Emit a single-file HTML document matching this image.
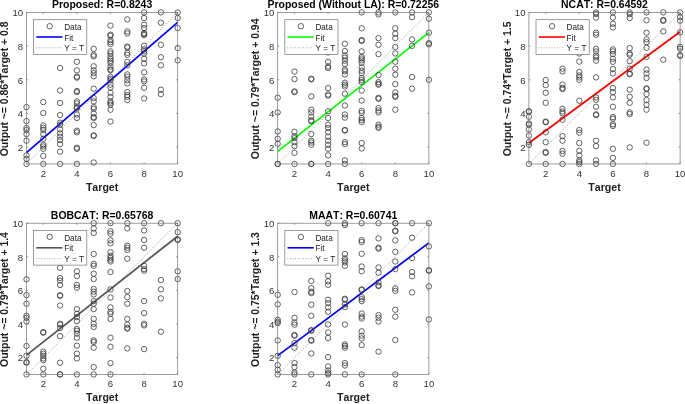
<!DOCTYPE html>
<html><head><meta charset="utf-8"><title>Regression plots</title>
<style>
html,body{margin:0;padding:0;background:#fff;}
svg{display:block;will-change:transform;font-family:"Liberation Sans",Arial,sans-serif;}
.tk{font-size:9.6px;font-kerning:none;fill:#333;}
.tt{font-size:10.1px;font-kerning:none;font-weight:bold;fill:#000;}
.lb{font-size:10.6px;font-kerning:none;font-weight:bold;fill:#222;}
.lg{font-size:8.2px;font-kerning:none;fill:#222;}
.c{fill:none;stroke:#3c3c3c;stroke-width:0.8;}
</style></head><body>
<svg width="685" height="404" viewBox="0 0 685 404">
<rect width="685" height="404" fill="#fff"/>
<g>
<line x1="26.5" y1="163.95" x2="177.7" y2="12.45" stroke="#5a5a5a" stroke-width="0.8" stroke-linecap="round" stroke-dasharray="0.01 2.83"/>
<line x1="26.5" y1="152.7" x2="177.7" y2="22.4" stroke="#0000ff" stroke-width="1.75"/>
<circle class="c" cx="26.5" cy="107.1" r="2.7"/>
<circle class="c" cx="26.5" cy="121.1" r="2.7"/>
<circle class="c" cx="26.5" cy="128.0" r="2.7"/>
<circle class="c" cx="26.5" cy="130.0" r="2.7"/>
<circle class="c" cx="26.5" cy="134.1" r="2.7"/>
<circle class="c" cx="26.5" cy="140.7" r="2.7"/>
<circle class="c" cx="26.5" cy="155.4" r="2.7"/>
<circle class="c" cx="26.5" cy="158.8" r="2.7"/>
<circle class="c" cx="26.5" cy="163.9" r="2.7"/>
<circle class="c" cx="43.3" cy="102.1" r="2.7"/>
<circle class="c" cx="43.3" cy="113.0" r="2.7"/>
<circle class="c" cx="43.3" cy="125.4" r="2.7"/>
<circle class="c" cx="43.3" cy="127.8" r="2.7"/>
<circle class="c" cx="43.3" cy="130.0" r="2.7"/>
<circle class="c" cx="43.3" cy="134.1" r="2.7"/>
<circle class="c" cx="43.3" cy="138.7" r="2.7"/>
<circle class="c" cx="43.3" cy="144.8" r="2.7"/>
<circle class="c" cx="43.3" cy="146.5" r="2.7"/>
<circle class="c" cx="43.3" cy="148.8" r="2.7"/>
<circle class="c" cx="43.3" cy="155.9" r="2.7"/>
<circle class="c" cx="43.3" cy="163.9" r="2.7"/>
<circle class="c" cx="60.1" cy="68.0" r="2.7"/>
<circle class="c" cx="60.1" cy="90.5" r="2.7"/>
<circle class="c" cx="60.1" cy="103.0" r="2.7"/>
<circle class="c" cx="60.1" cy="115.0" r="2.7"/>
<circle class="c" cx="60.1" cy="122.7" r="2.7"/>
<circle class="c" cx="60.1" cy="124.7" r="2.7"/>
<circle class="c" cx="60.1" cy="129.4" r="2.7"/>
<circle class="c" cx="60.1" cy="133.4" r="2.7"/>
<circle class="c" cx="60.1" cy="136.7" r="2.7"/>
<circle class="c" cx="60.1" cy="140.1" r="2.7"/>
<circle class="c" cx="60.1" cy="144.1" r="2.7"/>
<circle class="c" cx="60.1" cy="151.7" r="2.7"/>
<circle class="c" cx="60.1" cy="163.9" r="2.7"/>
<circle class="c" cx="76.9" cy="61.8" r="2.7"/>
<circle class="c" cx="76.9" cy="70.4" r="2.7"/>
<circle class="c" cx="76.9" cy="76.7" r="2.7"/>
<circle class="c" cx="76.9" cy="77.6" r="2.7"/>
<circle class="c" cx="76.9" cy="91.0" r="2.7"/>
<circle class="c" cx="76.9" cy="92.1" r="2.7"/>
<circle class="c" cx="76.9" cy="101.4" r="2.7"/>
<circle class="c" cx="76.9" cy="103.4" r="2.7"/>
<circle class="c" cx="76.9" cy="107.1" r="2.7"/>
<circle class="c" cx="76.9" cy="108.4" r="2.7"/>
<circle class="c" cx="76.9" cy="114.5" r="2.7"/>
<circle class="c" cx="76.9" cy="118.0" r="2.7"/>
<circle class="c" cx="76.9" cy="130.7" r="2.7"/>
<circle class="c" cx="76.9" cy="132.3" r="2.7"/>
<circle class="c" cx="76.9" cy="147.8" r="2.7"/>
<circle class="c" cx="76.9" cy="148.8" r="2.7"/>
<circle class="c" cx="76.9" cy="163.9" r="2.7"/>
<circle class="c" cx="93.7" cy="48.8" r="2.7"/>
<circle class="c" cx="93.7" cy="54.8" r="2.7"/>
<circle class="c" cx="93.7" cy="56.4" r="2.7"/>
<circle class="c" cx="93.7" cy="66.3" r="2.7"/>
<circle class="c" cx="93.7" cy="70.4" r="2.7"/>
<circle class="c" cx="93.7" cy="73.1" r="2.7"/>
<circle class="c" cx="93.7" cy="76.3" r="2.7"/>
<circle class="c" cx="93.7" cy="88.7" r="2.7"/>
<circle class="c" cx="93.7" cy="98.1" r="2.7"/>
<circle class="c" cx="93.7" cy="101.4" r="2.7"/>
<circle class="c" cx="93.7" cy="107.1" r="2.7"/>
<circle class="c" cx="93.7" cy="108.8" r="2.7"/>
<circle class="c" cx="93.7" cy="113.4" r="2.7"/>
<circle class="c" cx="93.7" cy="117.1" r="2.7"/>
<circle class="c" cx="93.7" cy="118.0" r="2.7"/>
<circle class="c" cx="93.7" cy="125.1" r="2.7"/>
<circle class="c" cx="93.7" cy="135.4" r="2.7"/>
<circle class="c" cx="93.7" cy="135.9" r="2.7"/>
<circle class="c" cx="93.7" cy="162.5" r="2.7"/>
<circle class="c" cx="110.5" cy="25.6" r="2.7"/>
<circle class="c" cx="110.5" cy="34.7" r="2.7"/>
<circle class="c" cx="110.5" cy="35.8" r="2.7"/>
<circle class="c" cx="110.5" cy="40.1" r="2.7"/>
<circle class="c" cx="110.5" cy="42.1" r="2.7"/>
<circle class="c" cx="110.5" cy="44.1" r="2.7"/>
<circle class="c" cx="110.5" cy="51.4" r="2.7"/>
<circle class="c" cx="110.5" cy="53.5" r="2.7"/>
<circle class="c" cx="110.5" cy="56.4" r="2.7"/>
<circle class="c" cx="110.5" cy="58.8" r="2.7"/>
<circle class="c" cx="110.5" cy="60.8" r="2.7"/>
<circle class="c" cx="110.5" cy="62.9" r="2.7"/>
<circle class="c" cx="110.5" cy="66.7" r="2.7"/>
<circle class="c" cx="110.5" cy="69.4" r="2.7"/>
<circle class="c" cx="110.5" cy="70.2" r="2.7"/>
<circle class="c" cx="110.5" cy="76.7" r="2.7"/>
<circle class="c" cx="110.5" cy="78.7" r="2.7"/>
<circle class="c" cx="110.5" cy="80.3" r="2.7"/>
<circle class="c" cx="110.5" cy="84.7" r="2.7"/>
<circle class="c" cx="110.5" cy="87.4" r="2.7"/>
<circle class="c" cx="110.5" cy="92.8" r="2.7"/>
<circle class="c" cx="110.5" cy="96.8" r="2.7"/>
<circle class="c" cx="110.5" cy="101.4" r="2.7"/>
<circle class="c" cx="110.5" cy="103.0" r="2.7"/>
<circle class="c" cx="110.5" cy="104.8" r="2.7"/>
<circle class="c" cx="110.5" cy="109.7" r="2.7"/>
<circle class="c" cx="110.5" cy="121.6" r="2.7"/>
<circle class="c" cx="127.3" cy="19.4" r="2.7"/>
<circle class="c" cx="127.3" cy="31.4" r="2.7"/>
<circle class="c" cx="127.3" cy="33.4" r="2.7"/>
<circle class="c" cx="127.3" cy="46.6" r="2.7"/>
<circle class="c" cx="127.3" cy="47.4" r="2.7"/>
<circle class="c" cx="127.3" cy="52.8" r="2.7"/>
<circle class="c" cx="127.3" cy="54.8" r="2.7"/>
<circle class="c" cx="127.3" cy="62.0" r="2.7"/>
<circle class="c" cx="127.3" cy="65.3" r="2.7"/>
<circle class="c" cx="127.3" cy="74.4" r="2.7"/>
<circle class="c" cx="127.3" cy="76.7" r="2.7"/>
<circle class="c" cx="127.3" cy="80.1" r="2.7"/>
<circle class="c" cx="127.3" cy="83.4" r="2.7"/>
<circle class="c" cx="127.3" cy="92.1" r="2.7"/>
<circle class="c" cx="127.3" cy="95.0" r="2.7"/>
<circle class="c" cx="127.3" cy="96.8" r="2.7"/>
<circle class="c" cx="127.3" cy="100.1" r="2.7"/>
<circle class="c" cx="144.1" cy="12.4" r="2.7"/>
<circle class="c" cx="144.1" cy="18.0" r="2.7"/>
<circle class="c" cx="144.1" cy="24.7" r="2.7"/>
<circle class="c" cx="144.1" cy="28.1" r="2.7"/>
<circle class="c" cx="144.1" cy="33.1" r="2.7"/>
<circle class="c" cx="144.1" cy="34.1" r="2.7"/>
<circle class="c" cx="144.1" cy="35.1" r="2.7"/>
<circle class="c" cx="144.1" cy="45.8" r="2.7"/>
<circle class="c" cx="144.1" cy="49.4" r="2.7"/>
<circle class="c" cx="144.1" cy="51.4" r="2.7"/>
<circle class="c" cx="144.1" cy="53.5" r="2.7"/>
<circle class="c" cx="144.1" cy="58.8" r="2.7"/>
<circle class="c" cx="144.1" cy="63.3" r="2.7"/>
<circle class="c" cx="144.1" cy="72.3" r="2.7"/>
<circle class="c" cx="144.1" cy="79.4" r="2.7"/>
<circle class="c" cx="144.1" cy="81.4" r="2.7"/>
<circle class="c" cx="144.1" cy="87.8" r="2.7"/>
<circle class="c" cx="144.1" cy="98.5" r="2.7"/>
<circle class="c" cx="160.9" cy="12.4" r="2.7"/>
<circle class="c" cx="160.9" cy="22.7" r="2.7"/>
<circle class="c" cx="160.9" cy="44.8" r="2.7"/>
<circle class="c" cx="160.9" cy="57.2" r="2.7"/>
<circle class="c" cx="160.9" cy="65.3" r="2.7"/>
<circle class="c" cx="160.9" cy="89.7" r="2.7"/>
<circle class="c" cx="160.9" cy="94.1" r="2.7"/>
<circle class="c" cx="177.7" cy="12.4" r="2.7"/>
<circle class="c" cx="177.7" cy="18.0" r="2.7"/>
<circle class="c" cx="177.7" cy="28.1" r="2.7"/>
<circle class="c" cx="177.7" cy="48.1" r="2.7"/>
<circle class="c" cx="177.7" cy="60.4" r="2.7"/>
<rect x="26.5" y="12.45" width="151.2" height="151.5" fill="none" stroke="#747474" stroke-width="0.7"/>
<path d="M43.3 163.95v-1.6M43.3 12.45v1.6M26.5 147.1h1.6M177.7 147.1h-1.6M76.9 163.95v-1.6M76.9 12.45v1.6M26.5 113.4h1.6M177.7 113.4h-1.6M110.5 163.95v-1.6M110.5 12.45v1.6M26.5 79.8h1.6M177.7 79.8h-1.6M144.1 163.95v-1.6M144.1 12.45v1.6M26.5 46.1h1.6M177.7 46.1h-1.6M177.7 163.95v-1.6M177.7 12.45v1.6M26.5 12.4h1.6M177.7 12.4h-1.6" stroke="#747474" stroke-width="0.7" fill="none"/>
<text class="tk" x="43.3" y="176.9" text-anchor="middle">2</text>
<text class="tk" x="23.1" y="150.87" text-anchor="end">2</text>
<text class="tk" x="76.9" y="176.9" text-anchor="middle">4</text>
<text class="tk" x="23.1" y="117.20" text-anchor="end">4</text>
<text class="tk" x="110.5" y="176.9" text-anchor="middle">6</text>
<text class="tk" x="23.1" y="83.53" text-anchor="end">6</text>
<text class="tk" x="144.1" y="176.9" text-anchor="middle">8</text>
<text class="tk" x="23.1" y="49.87" text-anchor="end">8</text>
<text class="tk" x="177.7" y="176.9" text-anchor="middle">10</text>
<text class="tk" x="23.1" y="16.20" text-anchor="end">10</text>
<text class="tt" transform="translate(102.1 8.20) scale(1.037 1)" text-anchor="middle">Proposed: R=0.8243</text>
<text class="lb" x="102.1" y="190.8" text-anchor="middle">Target</text>
<text class="lb" style="font-size:10.45px" transform="translate(8.25 88.9) rotate(-90)" text-anchor="middle">Output ~= 0.86*Target + 0.8</text>
<rect x="33.6" y="19.7" width="53.2" height="34.7" fill="#fff" stroke="#747474" stroke-width="0.7"/>
<circle class="c" cx="49.7" cy="26.2" r="2.7"/>
<line x1="36.3" y1="37.0" x2="62.5" y2="37.0" stroke="#0000ff" stroke-width="1.6"/>
<line x1="36.6" y1="47.8" x2="61.0" y2="47.8" stroke="#777" stroke-width="0.8" stroke-linecap="round" stroke-dasharray="0.01 2.6"/>
<text class="lg" x="64.2" y="29.8">Data</text>
<text class="lg" x="64.2" y="40.5">Fit</text>
<text class="lg" x="64.2" y="51.3">Y = T</text>
</g>
<g>
<line x1="277.7" y1="163.95" x2="428.9" y2="12.45" stroke="#5a5a5a" stroke-width="0.8" stroke-linecap="round" stroke-dasharray="0.01 2.83"/>
<line x1="277.7" y1="151.4" x2="428.9" y2="32.6" stroke="#00ff00" stroke-width="1.75"/>
<circle class="c" cx="277.7" cy="97.7" r="2.7"/>
<circle class="c" cx="277.7" cy="112.5" r="2.7"/>
<circle class="c" cx="277.7" cy="131.4" r="2.7"/>
<circle class="c" cx="277.7" cy="138.7" r="2.7"/>
<circle class="c" cx="277.7" cy="143.8" r="2.7"/>
<circle class="c" cx="277.7" cy="163.9" r="2.7"/>
<circle class="c" cx="277.7" cy="163.9" r="2.7"/>
<circle class="c" cx="294.5" cy="71.6" r="2.7"/>
<circle class="c" cx="294.5" cy="79.1" r="2.7"/>
<circle class="c" cx="294.5" cy="91.4" r="2.7"/>
<circle class="c" cx="294.5" cy="92.1" r="2.7"/>
<circle class="c" cx="294.5" cy="131.8" r="2.7"/>
<circle class="c" cx="294.5" cy="136.1" r="2.7"/>
<circle class="c" cx="294.5" cy="138.1" r="2.7"/>
<circle class="c" cx="294.5" cy="142.1" r="2.7"/>
<circle class="c" cx="294.5" cy="146.1" r="2.7"/>
<circle class="c" cx="294.5" cy="152.8" r="2.7"/>
<circle class="c" cx="294.5" cy="163.9" r="2.7"/>
<circle class="c" cx="311.3" cy="78.7" r="2.7"/>
<circle class="c" cx="311.3" cy="79.4" r="2.7"/>
<circle class="c" cx="311.3" cy="96.4" r="2.7"/>
<circle class="c" cx="311.3" cy="109.7" r="2.7"/>
<circle class="c" cx="311.3" cy="112.4" r="2.7"/>
<circle class="c" cx="311.3" cy="116.7" r="2.7"/>
<circle class="c" cx="311.3" cy="120.3" r="2.7"/>
<circle class="c" cx="311.3" cy="121.1" r="2.7"/>
<circle class="c" cx="311.3" cy="134.1" r="2.7"/>
<circle class="c" cx="311.3" cy="140.7" r="2.7"/>
<circle class="c" cx="311.3" cy="142.5" r="2.7"/>
<circle class="c" cx="311.3" cy="144.8" r="2.7"/>
<circle class="c" cx="311.3" cy="163.9" r="2.7"/>
<circle class="c" cx="311.3" cy="163.9" r="2.7"/>
<circle class="c" cx="328.1" cy="52.4" r="2.7"/>
<circle class="c" cx="328.1" cy="61.8" r="2.7"/>
<circle class="c" cx="328.1" cy="66.4" r="2.7"/>
<circle class="c" cx="328.1" cy="68.0" r="2.7"/>
<circle class="c" cx="328.1" cy="88.1" r="2.7"/>
<circle class="c" cx="328.1" cy="94.5" r="2.7"/>
<circle class="c" cx="328.1" cy="95.6" r="2.7"/>
<circle class="c" cx="328.1" cy="111.3" r="2.7"/>
<circle class="c" cx="328.1" cy="118.0" r="2.7"/>
<circle class="c" cx="328.1" cy="124.7" r="2.7"/>
<circle class="c" cx="328.1" cy="128.0" r="2.7"/>
<circle class="c" cx="328.1" cy="132.1" r="2.7"/>
<circle class="c" cx="328.1" cy="136.7" r="2.7"/>
<circle class="c" cx="328.1" cy="140.7" r="2.7"/>
<circle class="c" cx="328.1" cy="144.8" r="2.7"/>
<circle class="c" cx="328.1" cy="148.8" r="2.7"/>
<circle class="c" cx="328.1" cy="155.4" r="2.7"/>
<circle class="c" cx="328.1" cy="163.9" r="2.7"/>
<circle class="c" cx="344.9" cy="43.8" r="2.7"/>
<circle class="c" cx="344.9" cy="51.0" r="2.7"/>
<circle class="c" cx="344.9" cy="55.5" r="2.7"/>
<circle class="c" cx="344.9" cy="57.7" r="2.7"/>
<circle class="c" cx="344.9" cy="60.7" r="2.7"/>
<circle class="c" cx="344.9" cy="64.0" r="2.7"/>
<circle class="c" cx="344.9" cy="69.6" r="2.7"/>
<circle class="c" cx="344.9" cy="71.4" r="2.7"/>
<circle class="c" cx="344.9" cy="74.4" r="2.7"/>
<circle class="c" cx="344.9" cy="82.7" r="2.7"/>
<circle class="c" cx="344.9" cy="84.7" r="2.7"/>
<circle class="c" cx="344.9" cy="86.5" r="2.7"/>
<circle class="c" cx="344.9" cy="93.7" r="2.7"/>
<circle class="c" cx="344.9" cy="105.5" r="2.7"/>
<circle class="c" cx="344.9" cy="114.5" r="2.7"/>
<circle class="c" cx="344.9" cy="117.6" r="2.7"/>
<circle class="c" cx="344.9" cy="130.0" r="2.7"/>
<circle class="c" cx="344.9" cy="130.5" r="2.7"/>
<circle class="c" cx="344.9" cy="142.1" r="2.7"/>
<circle class="c" cx="344.9" cy="144.1" r="2.7"/>
<circle class="c" cx="344.9" cy="160.4" r="2.7"/>
<circle class="c" cx="344.9" cy="163.9" r="2.7"/>
<circle class="c" cx="361.7" cy="12.4" r="2.7"/>
<circle class="c" cx="361.7" cy="28.3" r="2.7"/>
<circle class="c" cx="361.7" cy="40.1" r="2.7"/>
<circle class="c" cx="361.7" cy="40.9" r="2.7"/>
<circle class="c" cx="361.7" cy="51.4" r="2.7"/>
<circle class="c" cx="361.7" cy="56.8" r="2.7"/>
<circle class="c" cx="361.7" cy="58.5" r="2.7"/>
<circle class="c" cx="361.7" cy="60.4" r="2.7"/>
<circle class="c" cx="361.7" cy="62.9" r="2.7"/>
<circle class="c" cx="361.7" cy="67.4" r="2.7"/>
<circle class="c" cx="361.7" cy="70.7" r="2.7"/>
<circle class="c" cx="361.7" cy="73.1" r="2.7"/>
<circle class="c" cx="361.7" cy="78.0" r="2.7"/>
<circle class="c" cx="361.7" cy="80.1" r="2.7"/>
<circle class="c" cx="361.7" cy="82.1" r="2.7"/>
<circle class="c" cx="361.7" cy="90.5" r="2.7"/>
<circle class="c" cx="361.7" cy="100.5" r="2.7"/>
<circle class="c" cx="361.7" cy="110.8" r="2.7"/>
<circle class="c" cx="361.7" cy="112.8" r="2.7"/>
<circle class="c" cx="361.7" cy="118.0" r="2.7"/>
<circle class="c" cx="361.7" cy="120.0" r="2.7"/>
<circle class="c" cx="361.7" cy="122.0" r="2.7"/>
<circle class="c" cx="361.7" cy="143.0" r="2.7"/>
<circle class="c" cx="361.7" cy="148.4" r="2.7"/>
<circle class="c" cx="378.5" cy="12.4" r="2.7"/>
<circle class="c" cx="378.5" cy="14.4" r="2.7"/>
<circle class="c" cx="378.5" cy="38.1" r="2.7"/>
<circle class="c" cx="378.5" cy="44.8" r="2.7"/>
<circle class="c" cx="378.5" cy="54.1" r="2.7"/>
<circle class="c" cx="378.5" cy="75.0" r="2.7"/>
<circle class="c" cx="378.5" cy="82.1" r="2.7"/>
<circle class="c" cx="378.5" cy="83.8" r="2.7"/>
<circle class="c" cx="378.5" cy="84.7" r="2.7"/>
<circle class="c" cx="378.5" cy="97.8" r="2.7"/>
<circle class="c" cx="378.5" cy="98.8" r="2.7"/>
<circle class="c" cx="378.5" cy="108.1" r="2.7"/>
<circle class="c" cx="378.5" cy="110.5" r="2.7"/>
<circle class="c" cx="378.5" cy="112.4" r="2.7"/>
<circle class="c" cx="378.5" cy="124.7" r="2.7"/>
<circle class="c" cx="378.5" cy="126.7" r="2.7"/>
<circle class="c" cx="378.5" cy="127.8" r="2.7"/>
<circle class="c" cx="395.3" cy="12.4" r="2.7"/>
<circle class="c" cx="395.3" cy="28.3" r="2.7"/>
<circle class="c" cx="395.3" cy="33.7" r="2.7"/>
<circle class="c" cx="395.3" cy="38.1" r="2.7"/>
<circle class="c" cx="395.3" cy="47.0" r="2.7"/>
<circle class="c" cx="395.3" cy="53.5" r="2.7"/>
<circle class="c" cx="395.3" cy="61.8" r="2.7"/>
<circle class="c" cx="395.3" cy="68.7" r="2.7"/>
<circle class="c" cx="395.3" cy="74.7" r="2.7"/>
<circle class="c" cx="395.3" cy="84.1" r="2.7"/>
<circle class="c" cx="395.3" cy="92.4" r="2.7"/>
<circle class="c" cx="395.3" cy="95.8" r="2.7"/>
<circle class="c" cx="395.3" cy="96.8" r="2.7"/>
<circle class="c" cx="395.3" cy="109.7" r="2.7"/>
<circle class="c" cx="412.1" cy="12.4" r="2.7"/>
<circle class="c" cx="412.1" cy="17.1" r="2.7"/>
<circle class="c" cx="412.1" cy="39.4" r="2.7"/>
<circle class="c" cx="412.1" cy="45.8" r="2.7"/>
<circle class="c" cx="412.1" cy="77.0" r="2.7"/>
<circle class="c" cx="412.1" cy="88.7" r="2.7"/>
<circle class="c" cx="428.9" cy="12.4" r="2.7"/>
<circle class="c" cx="428.9" cy="18.7" r="2.7"/>
<circle class="c" cx="428.9" cy="32.7" r="2.7"/>
<circle class="c" cx="428.9" cy="43.0" r="2.7"/>
<circle class="c" cx="428.9" cy="44.4" r="2.7"/>
<circle class="c" cx="428.9" cy="79.8" r="2.7"/>
<rect x="277.7" y="12.45" width="151.2" height="151.5" fill="none" stroke="#747474" stroke-width="0.7"/>
<path d="M294.5 163.95v-1.6M294.5 12.45v1.6M277.7 147.1h1.6M428.9 147.1h-1.6M328.1 163.95v-1.6M328.1 12.45v1.6M277.7 113.4h1.6M428.9 113.4h-1.6M361.7 163.95v-1.6M361.7 12.45v1.6M277.7 79.8h1.6M428.9 79.8h-1.6M395.3 163.95v-1.6M395.3 12.45v1.6M277.7 46.1h1.6M428.9 46.1h-1.6M428.9 163.95v-1.6M428.9 12.45v1.6M277.7 12.4h1.6M428.9 12.4h-1.6" stroke="#747474" stroke-width="0.7" fill="none"/>
<text class="tk" x="294.5" y="176.9" text-anchor="middle">2</text>
<text class="tk" x="274.3" y="150.87" text-anchor="end">2</text>
<text class="tk" x="328.1" y="176.9" text-anchor="middle">4</text>
<text class="tk" x="274.3" y="117.20" text-anchor="end">4</text>
<text class="tk" x="361.7" y="176.9" text-anchor="middle">6</text>
<text class="tk" x="274.3" y="83.53" text-anchor="end">6</text>
<text class="tk" x="395.3" y="176.9" text-anchor="middle">8</text>
<text class="tk" x="274.3" y="49.87" text-anchor="end">8</text>
<text class="tk" x="428.9" y="176.9" text-anchor="middle">10</text>
<text class="tk" x="274.3" y="16.20" text-anchor="end">10</text>
<text class="tt" transform="translate(353.3 8.20) scale(1.037 1)" text-anchor="middle">Proposed (Without LA): R=0.72256</text>
<text class="lb" x="353.3" y="190.8" text-anchor="middle">Target</text>
<text class="lb" style="font-size:10.45px" transform="translate(259.45 88.9) rotate(-90)" text-anchor="middle">Output ~= 0.79*Target + 0.94</text>
<rect x="284.8" y="19.7" width="53.2" height="34.7" fill="#fff" stroke="#747474" stroke-width="0.7"/>
<circle class="c" cx="300.9" cy="26.2" r="2.7"/>
<line x1="287.5" y1="37.0" x2="313.7" y2="37.0" stroke="#00ff00" stroke-width="1.6"/>
<line x1="287.8" y1="47.8" x2="312.2" y2="47.8" stroke="#777" stroke-width="0.8" stroke-linecap="round" stroke-dasharray="0.01 2.6"/>
<text class="lg" x="315.4" y="29.8">Data</text>
<text class="lg" x="315.4" y="40.5">Fit</text>
<text class="lg" x="315.4" y="51.3">Y = T</text>
</g>
<g>
<line x1="528.9" y1="163.95" x2="680.0999999999999" y2="12.45" stroke="#5a5a5a" stroke-width="0.8" stroke-linecap="round" stroke-dasharray="0.01 2.83"/>
<line x1="528.9" y1="143.0" x2="680.0999999999999" y2="31.7" stroke="#ff0000" stroke-width="1.75"/>
<circle class="c" cx="528.9" cy="111.2" r="2.7"/>
<circle class="c" cx="528.9" cy="111.8" r="2.7"/>
<circle class="c" cx="528.9" cy="116.7" r="2.7"/>
<circle class="c" cx="528.9" cy="123.4" r="2.7"/>
<circle class="c" cx="528.9" cy="124.7" r="2.7"/>
<circle class="c" cx="528.9" cy="129.4" r="2.7"/>
<circle class="c" cx="528.9" cy="135.4" r="2.7"/>
<circle class="c" cx="528.9" cy="142.1" r="2.7"/>
<circle class="c" cx="528.9" cy="144.8" r="2.7"/>
<circle class="c" cx="528.9" cy="163.9" r="2.7"/>
<circle class="c" cx="545.7" cy="80.1" r="2.7"/>
<circle class="c" cx="545.7" cy="85.1" r="2.7"/>
<circle class="c" cx="545.7" cy="92.8" r="2.7"/>
<circle class="c" cx="545.7" cy="102.8" r="2.7"/>
<circle class="c" cx="545.7" cy="121.6" r="2.7"/>
<circle class="c" cx="545.7" cy="122.2" r="2.7"/>
<circle class="c" cx="545.7" cy="132.3" r="2.7"/>
<circle class="c" cx="545.7" cy="142.1" r="2.7"/>
<circle class="c" cx="545.7" cy="152.1" r="2.7"/>
<circle class="c" cx="545.7" cy="152.8" r="2.7"/>
<circle class="c" cx="545.7" cy="163.9" r="2.7"/>
<circle class="c" cx="562.5" cy="68.7" r="2.7"/>
<circle class="c" cx="562.5" cy="71.4" r="2.7"/>
<circle class="c" cx="562.5" cy="84.7" r="2.7"/>
<circle class="c" cx="562.5" cy="87.8" r="2.7"/>
<circle class="c" cx="562.5" cy="89.1" r="2.7"/>
<circle class="c" cx="562.5" cy="108.8" r="2.7"/>
<circle class="c" cx="562.5" cy="111.5" r="2.7"/>
<circle class="c" cx="562.5" cy="113.3" r="2.7"/>
<circle class="c" cx="562.5" cy="119.8" r="2.7"/>
<circle class="c" cx="562.5" cy="136.1" r="2.7"/>
<circle class="c" cx="562.5" cy="140.7" r="2.7"/>
<circle class="c" cx="562.5" cy="151.0" r="2.7"/>
<circle class="c" cx="562.5" cy="153.7" r="2.7"/>
<circle class="c" cx="562.5" cy="163.9" r="2.7"/>
<circle class="c" cx="579.3" cy="53.5" r="2.7"/>
<circle class="c" cx="579.3" cy="61.6" r="2.7"/>
<circle class="c" cx="579.3" cy="72.0" r="2.7"/>
<circle class="c" cx="579.3" cy="75.4" r="2.7"/>
<circle class="c" cx="579.3" cy="77.4" r="2.7"/>
<circle class="c" cx="579.3" cy="79.8" r="2.7"/>
<circle class="c" cx="579.3" cy="100.8" r="2.7"/>
<circle class="c" cx="579.3" cy="130.0" r="2.7"/>
<circle class="c" cx="579.3" cy="132.7" r="2.7"/>
<circle class="c" cx="579.3" cy="143.0" r="2.7"/>
<circle class="c" cx="579.3" cy="150.8" r="2.7"/>
<circle class="c" cx="579.3" cy="155.4" r="2.7"/>
<circle class="c" cx="579.3" cy="160.4" r="2.7"/>
<circle class="c" cx="579.3" cy="162.1" r="2.7"/>
<circle class="c" cx="579.3" cy="163.9" r="2.7"/>
<circle class="c" cx="596.1" cy="12.4" r="2.7"/>
<circle class="c" cx="596.1" cy="14.0" r="2.7"/>
<circle class="c" cx="596.1" cy="17.6" r="2.7"/>
<circle class="c" cx="596.1" cy="32.7" r="2.7"/>
<circle class="c" cx="596.1" cy="34.7" r="2.7"/>
<circle class="c" cx="596.1" cy="48.8" r="2.7"/>
<circle class="c" cx="596.1" cy="51.4" r="2.7"/>
<circle class="c" cx="596.1" cy="55.5" r="2.7"/>
<circle class="c" cx="596.1" cy="57.5" r="2.7"/>
<circle class="c" cx="596.1" cy="60.7" r="2.7"/>
<circle class="c" cx="596.1" cy="77.4" r="2.7"/>
<circle class="c" cx="596.1" cy="97.4" r="2.7"/>
<circle class="c" cx="596.1" cy="99.8" r="2.7"/>
<circle class="c" cx="596.1" cy="106.8" r="2.7"/>
<circle class="c" cx="596.1" cy="114.3" r="2.7"/>
<circle class="c" cx="596.1" cy="115.2" r="2.7"/>
<circle class="c" cx="596.1" cy="140.7" r="2.7"/>
<circle class="c" cx="596.1" cy="146.1" r="2.7"/>
<circle class="c" cx="596.1" cy="160.4" r="2.7"/>
<circle class="c" cx="596.1" cy="163.9" r="2.7"/>
<circle class="c" cx="612.9" cy="12.4" r="2.7"/>
<circle class="c" cx="612.9" cy="17.6" r="2.7"/>
<circle class="c" cx="612.9" cy="23.8" r="2.7"/>
<circle class="c" cx="612.9" cy="27.4" r="2.7"/>
<circle class="c" cx="612.9" cy="49.4" r="2.7"/>
<circle class="c" cx="612.9" cy="51.4" r="2.7"/>
<circle class="c" cx="612.9" cy="54.1" r="2.7"/>
<circle class="c" cx="612.9" cy="58.8" r="2.7"/>
<circle class="c" cx="612.9" cy="61.8" r="2.7"/>
<circle class="c" cx="612.9" cy="69.1" r="2.7"/>
<circle class="c" cx="612.9" cy="73.4" r="2.7"/>
<circle class="c" cx="612.9" cy="88.1" r="2.7"/>
<circle class="c" cx="612.9" cy="92.1" r="2.7"/>
<circle class="c" cx="612.9" cy="97.4" r="2.7"/>
<circle class="c" cx="612.9" cy="106.8" r="2.7"/>
<circle class="c" cx="612.9" cy="117.1" r="2.7"/>
<circle class="c" cx="612.9" cy="118.7" r="2.7"/>
<circle class="c" cx="612.9" cy="124.3" r="2.7"/>
<circle class="c" cx="612.9" cy="126.0" r="2.7"/>
<circle class="c" cx="612.9" cy="148.8" r="2.7"/>
<circle class="c" cx="612.9" cy="157.9" r="2.7"/>
<circle class="c" cx="612.9" cy="163.9" r="2.7"/>
<circle class="c" cx="629.7" cy="12.4" r="2.7"/>
<circle class="c" cx="629.7" cy="14.0" r="2.7"/>
<circle class="c" cx="629.7" cy="18.0" r="2.7"/>
<circle class="c" cx="629.7" cy="48.1" r="2.7"/>
<circle class="c" cx="629.7" cy="53.5" r="2.7"/>
<circle class="c" cx="629.7" cy="54.8" r="2.7"/>
<circle class="c" cx="629.7" cy="61.2" r="2.7"/>
<circle class="c" cx="629.7" cy="68.7" r="2.7"/>
<circle class="c" cx="629.7" cy="73.6" r="2.7"/>
<circle class="c" cx="629.7" cy="74.2" r="2.7"/>
<circle class="c" cx="629.7" cy="89.7" r="2.7"/>
<circle class="c" cx="629.7" cy="96.8" r="2.7"/>
<circle class="c" cx="629.7" cy="102.8" r="2.7"/>
<circle class="c" cx="629.7" cy="112.4" r="2.7"/>
<circle class="c" cx="629.7" cy="114.0" r="2.7"/>
<circle class="c" cx="629.7" cy="147.4" r="2.7"/>
<circle class="c" cx="646.5" cy="12.4" r="2.7"/>
<circle class="c" cx="646.5" cy="20.3" r="2.7"/>
<circle class="c" cx="646.5" cy="32.7" r="2.7"/>
<circle class="c" cx="646.5" cy="39.4" r="2.7"/>
<circle class="c" cx="646.5" cy="42.1" r="2.7"/>
<circle class="c" cx="646.5" cy="47.8" r="2.7"/>
<circle class="c" cx="646.5" cy="56.8" r="2.7"/>
<circle class="c" cx="646.5" cy="69.6" r="2.7"/>
<circle class="c" cx="646.5" cy="73.4" r="2.7"/>
<circle class="c" cx="646.5" cy="78.0" r="2.7"/>
<circle class="c" cx="646.5" cy="88.4" r="2.7"/>
<circle class="c" cx="646.5" cy="89.0" r="2.7"/>
<circle class="c" cx="646.5" cy="94.1" r="2.7"/>
<circle class="c" cx="646.5" cy="100.1" r="2.7"/>
<circle class="c" cx="646.5" cy="104.8" r="2.7"/>
<circle class="c" cx="646.5" cy="109.7" r="2.7"/>
<circle class="c" cx="646.5" cy="142.7" r="2.7"/>
<circle class="c" cx="663.3" cy="12.4" r="2.7"/>
<circle class="c" cx="663.3" cy="20.0" r="2.7"/>
<circle class="c" cx="663.3" cy="20.8" r="2.7"/>
<circle class="c" cx="663.3" cy="31.4" r="2.7"/>
<circle class="c" cx="663.3" cy="59.7" r="2.7"/>
<circle class="c" cx="680.1" cy="12.4" r="2.7"/>
<circle class="c" cx="680.1" cy="17.1" r="2.7"/>
<circle class="c" cx="680.1" cy="20.7" r="2.7"/>
<circle class="c" cx="680.1" cy="32.3" r="2.7"/>
<circle class="c" cx="680.1" cy="46.8" r="2.7"/>
<circle class="c" cx="680.1" cy="48.8" r="2.7"/>
<circle class="c" cx="680.1" cy="55.2" r="2.7"/>
<circle class="c" cx="680.1" cy="55.8" r="2.7"/>
<rect x="528.9" y="12.45" width="151.2" height="151.5" fill="none" stroke="#747474" stroke-width="0.7"/>
<path d="M545.7 163.95v-1.6M545.7 12.45v1.6M528.9 147.1h1.6M680.0999999999999 147.1h-1.6M579.3 163.95v-1.6M579.3 12.45v1.6M528.9 113.4h1.6M680.0999999999999 113.4h-1.6M612.9 163.95v-1.6M612.9 12.45v1.6M528.9 79.8h1.6M680.0999999999999 79.8h-1.6M646.5 163.95v-1.6M646.5 12.45v1.6M528.9 46.1h1.6M680.0999999999999 46.1h-1.6M680.1 163.95v-1.6M680.1 12.45v1.6M528.9 12.4h1.6M680.0999999999999 12.4h-1.6" stroke="#747474" stroke-width="0.7" fill="none"/>
<text class="tk" x="545.7" y="176.9" text-anchor="middle">2</text>
<text class="tk" x="525.5" y="150.87" text-anchor="end">2</text>
<text class="tk" x="579.3" y="176.9" text-anchor="middle">4</text>
<text class="tk" x="525.5" y="117.20" text-anchor="end">4</text>
<text class="tk" x="612.9" y="176.9" text-anchor="middle">6</text>
<text class="tk" x="525.5" y="83.53" text-anchor="end">6</text>
<text class="tk" x="646.5" y="176.9" text-anchor="middle">8</text>
<text class="tk" x="525.5" y="49.87" text-anchor="end">8</text>
<text class="tk" x="680.1" y="176.9" text-anchor="middle">10</text>
<text class="tk" x="525.5" y="16.20" text-anchor="end">10</text>
<text class="tt" transform="translate(604.5 8.20) scale(1.037 1)" text-anchor="middle">NCAT: R=0.64592</text>
<text class="lb" x="604.5" y="190.8" text-anchor="middle">Target</text>
<text class="lb" style="font-size:10.45px" transform="translate(510.65 88.9) rotate(-90)" text-anchor="middle">Output ~= 0.74*Target + 1.5</text>
<rect x="536.0" y="19.7" width="53.2" height="34.7" fill="#fff" stroke="#747474" stroke-width="0.7"/>
<circle class="c" cx="552.1" cy="26.2" r="2.7"/>
<line x1="538.7" y1="37.0" x2="564.9" y2="37.0" stroke="#ff0000" stroke-width="1.6"/>
<line x1="539.0" y1="47.8" x2="563.4" y2="47.8" stroke="#777" stroke-width="0.8" stroke-linecap="round" stroke-dasharray="0.01 2.6"/>
<text class="lg" x="566.6" y="29.8">Data</text>
<text class="lg" x="566.6" y="40.5">Fit</text>
<text class="lg" x="566.6" y="51.3">Y = T</text>
</g>
<g>
<line x1="26.5" y1="374.35" x2="177.7" y2="223.2" stroke="#5a5a5a" stroke-width="0.8" stroke-linecap="round" stroke-dasharray="0.01 2.83"/>
<line x1="26.5" y1="355.1" x2="177.7" y2="236.2" stroke="#555555" stroke-width="1.75"/>
<circle class="c" cx="26.5" cy="279.3" r="2.7"/>
<circle class="c" cx="26.5" cy="295.1" r="2.7"/>
<circle class="c" cx="26.5" cy="303.8" r="2.7"/>
<circle class="c" cx="26.5" cy="315.8" r="2.7"/>
<circle class="c" cx="26.5" cy="317.8" r="2.7"/>
<circle class="c" cx="26.5" cy="321.5" r="2.7"/>
<circle class="c" cx="26.5" cy="346.0" r="2.7"/>
<circle class="c" cx="26.5" cy="355.8" r="2.7"/>
<circle class="c" cx="26.5" cy="362.1" r="2.7"/>
<circle class="c" cx="26.5" cy="362.7" r="2.7"/>
<circle class="c" cx="26.5" cy="374.4" r="2.7"/>
<circle class="c" cx="43.3" cy="332.1" r="2.7"/>
<circle class="c" cx="43.3" cy="332.7" r="2.7"/>
<circle class="c" cx="43.3" cy="351.7" r="2.7"/>
<circle class="c" cx="43.3" cy="353.7" r="2.7"/>
<circle class="c" cx="43.3" cy="355.8" r="2.7"/>
<circle class="c" cx="43.3" cy="358.4" r="2.7"/>
<circle class="c" cx="43.3" cy="360.2" r="2.7"/>
<circle class="c" cx="43.3" cy="368.7" r="2.7"/>
<circle class="c" cx="43.3" cy="374.4" r="2.7"/>
<circle class="c" cx="60.1" cy="267.8" r="2.7"/>
<circle class="c" cx="60.1" cy="278.0" r="2.7"/>
<circle class="c" cx="60.1" cy="280.6" r="2.7"/>
<circle class="c" cx="60.1" cy="285.0" r="2.7"/>
<circle class="c" cx="60.1" cy="295.2" r="2.7"/>
<circle class="c" cx="60.1" cy="295.8" r="2.7"/>
<circle class="c" cx="60.1" cy="305.5" r="2.7"/>
<circle class="c" cx="60.1" cy="323.8" r="2.7"/>
<circle class="c" cx="60.1" cy="324.6" r="2.7"/>
<circle class="c" cx="60.1" cy="328.1" r="2.7"/>
<circle class="c" cx="60.1" cy="336.1" r="2.7"/>
<circle class="c" cx="60.1" cy="362.7" r="2.7"/>
<circle class="c" cx="60.1" cy="374.4" r="2.7"/>
<circle class="c" cx="60.1" cy="374.4" r="2.7"/>
<circle class="c" cx="76.9" cy="271.3" r="2.7"/>
<circle class="c" cx="76.9" cy="276.1" r="2.7"/>
<circle class="c" cx="76.9" cy="285.0" r="2.7"/>
<circle class="c" cx="76.9" cy="287.7" r="2.7"/>
<circle class="c" cx="76.9" cy="309.1" r="2.7"/>
<circle class="c" cx="76.9" cy="313.8" r="2.7"/>
<circle class="c" cx="76.9" cy="317.1" r="2.7"/>
<circle class="c" cx="76.9" cy="321.1" r="2.7"/>
<circle class="c" cx="76.9" cy="329.0" r="2.7"/>
<circle class="c" cx="76.9" cy="330.8" r="2.7"/>
<circle class="c" cx="76.9" cy="333.7" r="2.7"/>
<circle class="c" cx="76.9" cy="337.7" r="2.7"/>
<circle class="c" cx="76.9" cy="345.7" r="2.7"/>
<circle class="c" cx="76.9" cy="353.7" r="2.7"/>
<circle class="c" cx="76.9" cy="358.4" r="2.7"/>
<circle class="c" cx="76.9" cy="374.4" r="2.7"/>
<circle class="c" cx="93.7" cy="223.2" r="2.7"/>
<circle class="c" cx="93.7" cy="228.4" r="2.7"/>
<circle class="c" cx="93.7" cy="233.0" r="2.7"/>
<circle class="c" cx="93.7" cy="254.0" r="2.7"/>
<circle class="c" cx="93.7" cy="263.8" r="2.7"/>
<circle class="c" cx="93.7" cy="265.8" r="2.7"/>
<circle class="c" cx="93.7" cy="273.7" r="2.7"/>
<circle class="c" cx="93.7" cy="279.0" r="2.7"/>
<circle class="c" cx="93.7" cy="289.0" r="2.7"/>
<circle class="c" cx="93.7" cy="291.7" r="2.7"/>
<circle class="c" cx="93.7" cy="294.4" r="2.7"/>
<circle class="c" cx="93.7" cy="301.1" r="2.7"/>
<circle class="c" cx="93.7" cy="303.8" r="2.7"/>
<circle class="c" cx="93.7" cy="309.1" r="2.7"/>
<circle class="c" cx="93.7" cy="318.9" r="2.7"/>
<circle class="c" cx="93.7" cy="323.8" r="2.7"/>
<circle class="c" cx="93.7" cy="327.0" r="2.7"/>
<circle class="c" cx="93.7" cy="340.4" r="2.7"/>
<circle class="c" cx="93.7" cy="342.0" r="2.7"/>
<circle class="c" cx="93.7" cy="347.7" r="2.7"/>
<circle class="c" cx="93.7" cy="367.1" r="2.7"/>
<circle class="c" cx="93.7" cy="374.4" r="2.7"/>
<circle class="c" cx="110.5" cy="223.2" r="2.7"/>
<circle class="c" cx="110.5" cy="231.3" r="2.7"/>
<circle class="c" cx="110.5" cy="233.7" r="2.7"/>
<circle class="c" cx="110.5" cy="240.4" r="2.7"/>
<circle class="c" cx="110.5" cy="243.3" r="2.7"/>
<circle class="c" cx="110.5" cy="252.2" r="2.7"/>
<circle class="c" cx="110.5" cy="255.8" r="2.7"/>
<circle class="c" cx="110.5" cy="257.8" r="2.7"/>
<circle class="c" cx="110.5" cy="259.8" r="2.7"/>
<circle class="c" cx="110.5" cy="261.5" r="2.7"/>
<circle class="c" cx="110.5" cy="272.0" r="2.7"/>
<circle class="c" cx="110.5" cy="289.4" r="2.7"/>
<circle class="c" cx="110.5" cy="297.5" r="2.7"/>
<circle class="c" cx="110.5" cy="307.4" r="2.7"/>
<circle class="c" cx="110.5" cy="311.8" r="2.7"/>
<circle class="c" cx="110.5" cy="313.8" r="2.7"/>
<circle class="c" cx="110.5" cy="318.9" r="2.7"/>
<circle class="c" cx="110.5" cy="337.7" r="2.7"/>
<circle class="c" cx="110.5" cy="346.8" r="2.7"/>
<circle class="c" cx="110.5" cy="363.1" r="2.7"/>
<circle class="c" cx="110.5" cy="374.4" r="2.7"/>
<circle class="c" cx="127.3" cy="223.2" r="2.7"/>
<circle class="c" cx="127.3" cy="228.4" r="2.7"/>
<circle class="c" cx="127.3" cy="245.7" r="2.7"/>
<circle class="c" cx="127.3" cy="247.7" r="2.7"/>
<circle class="c" cx="127.3" cy="250.0" r="2.7"/>
<circle class="c" cx="127.3" cy="258.7" r="2.7"/>
<circle class="c" cx="127.3" cy="291.1" r="2.7"/>
<circle class="c" cx="127.3" cy="297.1" r="2.7"/>
<circle class="c" cx="127.3" cy="303.8" r="2.7"/>
<circle class="c" cx="127.3" cy="318.9" r="2.7"/>
<circle class="c" cx="127.3" cy="324.7" r="2.7"/>
<circle class="c" cx="127.3" cy="327.7" r="2.7"/>
<circle class="c" cx="127.3" cy="328.6" r="2.7"/>
<circle class="c" cx="127.3" cy="348.4" r="2.7"/>
<circle class="c" cx="144.1" cy="223.2" r="2.7"/>
<circle class="c" cx="144.1" cy="230.4" r="2.7"/>
<circle class="c" cx="144.1" cy="240.0" r="2.7"/>
<circle class="c" cx="144.1" cy="247.7" r="2.7"/>
<circle class="c" cx="144.1" cy="265.8" r="2.7"/>
<circle class="c" cx="144.1" cy="269.1" r="2.7"/>
<circle class="c" cx="144.1" cy="270.7" r="2.7"/>
<circle class="c" cx="144.1" cy="301.1" r="2.7"/>
<circle class="c" cx="144.1" cy="313.1" r="2.7"/>
<circle class="c" cx="144.1" cy="323.8" r="2.7"/>
<circle class="c" cx="144.1" cy="325.4" r="2.7"/>
<circle class="c" cx="144.1" cy="349.1" r="2.7"/>
<circle class="c" cx="160.9" cy="223.2" r="2.7"/>
<circle class="c" cx="160.9" cy="280.1" r="2.7"/>
<circle class="c" cx="160.9" cy="289.3" r="2.7"/>
<circle class="c" cx="160.9" cy="298.4" r="2.7"/>
<circle class="c" cx="160.9" cy="331.7" r="2.7"/>
<circle class="c" cx="177.7" cy="223.2" r="2.7"/>
<circle class="c" cx="177.7" cy="232.1" r="2.7"/>
<circle class="c" cx="177.7" cy="239.4" r="2.7"/>
<circle class="c" cx="177.7" cy="240.0" r="2.7"/>
<circle class="c" cx="177.7" cy="271.3" r="2.7"/>
<circle class="c" cx="177.7" cy="279.0" r="2.7"/>
<rect x="26.5" y="223.2" width="151.2" height="151.15" fill="none" stroke="#747474" stroke-width="0.7"/>
<path d="M43.3 374.35v-1.6M43.3 223.2v1.6M26.5 357.6h1.6M177.7 357.6h-1.6M76.9 374.35v-1.6M76.9 223.2v1.6M26.5 324.0h1.6M177.7 324.0h-1.6M110.5 374.35v-1.6M110.5 223.2v1.6M26.5 290.4h1.6M177.7 290.4h-1.6M144.1 374.35v-1.6M144.1 223.2v1.6M26.5 256.8h1.6M177.7 256.8h-1.6M177.7 374.35v-1.6M177.7 223.2v1.6M26.5 223.2h1.6M177.7 223.2h-1.6" stroke="#747474" stroke-width="0.7" fill="none"/>
<text class="tk" x="43.3" y="387.4" text-anchor="middle">2</text>
<text class="tk" x="23.1" y="361.31" text-anchor="end">2</text>
<text class="tk" x="76.9" y="387.4" text-anchor="middle">4</text>
<text class="tk" x="23.1" y="327.72" text-anchor="end">4</text>
<text class="tk" x="110.5" y="387.4" text-anchor="middle">6</text>
<text class="tk" x="23.1" y="294.13" text-anchor="end">6</text>
<text class="tk" x="144.1" y="387.4" text-anchor="middle">8</text>
<text class="tk" x="23.1" y="260.54" text-anchor="end">8</text>
<text class="tk" x="177.7" y="387.4" text-anchor="middle">10</text>
<text class="tk" x="23.1" y="226.95" text-anchor="end">10</text>
<text class="tt" transform="translate(102.1 218.95) scale(1.037 1)" text-anchor="middle">BOBCAT: R=0.65768</text>
<text class="lb" x="102.1" y="401.2" text-anchor="middle">Target</text>
<text class="lb" style="font-size:10.45px" transform="translate(8.25 299.5) rotate(-90)" text-anchor="middle">Output ~= 0.79*Target + 1.4</text>
<rect x="33.6" y="230.4" width="53.2" height="34.7" fill="#fff" stroke="#747474" stroke-width="0.7"/>
<circle class="c" cx="49.7" cy="236.9" r="2.7"/>
<line x1="36.3" y1="247.8" x2="62.5" y2="247.8" stroke="#555555" stroke-width="1.6"/>
<line x1="36.6" y1="258.6" x2="61.0" y2="258.6" stroke="#777" stroke-width="0.8" stroke-linecap="round" stroke-dasharray="0.01 2.6"/>
<text class="lg" x="64.2" y="240.5">Data</text>
<text class="lg" x="64.2" y="251.3">Fit</text>
<text class="lg" x="64.2" y="262.0">Y = T</text>
</g>
<g>
<line x1="277.7" y1="374.35" x2="428.9" y2="223.2" stroke="#5a5a5a" stroke-width="0.8" stroke-linecap="round" stroke-dasharray="0.01 2.83"/>
<line x1="277.7" y1="355.6" x2="428.9" y2="242.9" stroke="#0000ff" stroke-width="1.75"/>
<circle class="c" cx="277.7" cy="294.8" r="2.7"/>
<circle class="c" cx="277.7" cy="304.4" r="2.7"/>
<circle class="c" cx="277.7" cy="319.8" r="2.7"/>
<circle class="c" cx="277.7" cy="321.8" r="2.7"/>
<circle class="c" cx="277.7" cy="323.1" r="2.7"/>
<circle class="c" cx="277.7" cy="340.4" r="2.7"/>
<circle class="c" cx="277.7" cy="355.8" r="2.7"/>
<circle class="c" cx="277.7" cy="365.1" r="2.7"/>
<circle class="c" cx="277.7" cy="369.8" r="2.7"/>
<circle class="c" cx="277.7" cy="374.4" r="2.7"/>
<circle class="c" cx="294.5" cy="292.1" r="2.7"/>
<circle class="c" cx="294.5" cy="317.8" r="2.7"/>
<circle class="c" cx="294.5" cy="322.5" r="2.7"/>
<circle class="c" cx="294.5" cy="324.7" r="2.7"/>
<circle class="c" cx="294.5" cy="335.0" r="2.7"/>
<circle class="c" cx="294.5" cy="335.7" r="2.7"/>
<circle class="c" cx="294.5" cy="343.1" r="2.7"/>
<circle class="c" cx="294.5" cy="347.7" r="2.7"/>
<circle class="c" cx="294.5" cy="363.1" r="2.7"/>
<circle class="c" cx="294.5" cy="367.1" r="2.7"/>
<circle class="c" cx="294.5" cy="372.5" r="2.7"/>
<circle class="c" cx="294.5" cy="374.4" r="2.7"/>
<circle class="c" cx="311.3" cy="281.0" r="2.7"/>
<circle class="c" cx="311.3" cy="288.1" r="2.7"/>
<circle class="c" cx="311.3" cy="291.7" r="2.7"/>
<circle class="c" cx="311.3" cy="293.1" r="2.7"/>
<circle class="c" cx="311.3" cy="304.7" r="2.7"/>
<circle class="c" cx="311.3" cy="315.8" r="2.7"/>
<circle class="c" cx="311.3" cy="330.1" r="2.7"/>
<circle class="c" cx="311.3" cy="330.7" r="2.7"/>
<circle class="c" cx="311.3" cy="340.1" r="2.7"/>
<circle class="c" cx="311.3" cy="340.7" r="2.7"/>
<circle class="c" cx="311.3" cy="353.5" r="2.7"/>
<circle class="c" cx="311.3" cy="374.4" r="2.7"/>
<circle class="c" cx="328.1" cy="223.2" r="2.7"/>
<circle class="c" cx="328.1" cy="275.7" r="2.7"/>
<circle class="c" cx="328.1" cy="281.4" r="2.7"/>
<circle class="c" cx="328.1" cy="284.8" r="2.7"/>
<circle class="c" cx="328.1" cy="299.7" r="2.7"/>
<circle class="c" cx="328.1" cy="303.1" r="2.7"/>
<circle class="c" cx="328.1" cy="307.4" r="2.7"/>
<circle class="c" cx="328.1" cy="311.8" r="2.7"/>
<circle class="c" cx="328.1" cy="324.4" r="2.7"/>
<circle class="c" cx="328.1" cy="332.4" r="2.7"/>
<circle class="c" cx="328.1" cy="338.0" r="2.7"/>
<circle class="c" cx="328.1" cy="357.1" r="2.7"/>
<circle class="c" cx="328.1" cy="366.4" r="2.7"/>
<circle class="c" cx="328.1" cy="370.5" r="2.7"/>
<circle class="c" cx="328.1" cy="373.1" r="2.7"/>
<circle class="c" cx="328.1" cy="374.4" r="2.7"/>
<circle class="c" cx="344.9" cy="223.2" r="2.7"/>
<circle class="c" cx="344.9" cy="225.0" r="2.7"/>
<circle class="c" cx="344.9" cy="254.0" r="2.7"/>
<circle class="c" cx="344.9" cy="258.4" r="2.7"/>
<circle class="c" cx="344.9" cy="260.4" r="2.7"/>
<circle class="c" cx="344.9" cy="262.4" r="2.7"/>
<circle class="c" cx="344.9" cy="265.8" r="2.7"/>
<circle class="c" cx="344.9" cy="298.8" r="2.7"/>
<circle class="c" cx="344.9" cy="299.6" r="2.7"/>
<circle class="c" cx="344.9" cy="304.4" r="2.7"/>
<circle class="c" cx="344.9" cy="307.1" r="2.7"/>
<circle class="c" cx="344.9" cy="324.5" r="2.7"/>
<circle class="c" cx="344.9" cy="344.4" r="2.7"/>
<circle class="c" cx="344.9" cy="346.0" r="2.7"/>
<circle class="c" cx="344.9" cy="347.7" r="2.7"/>
<circle class="c" cx="344.9" cy="363.1" r="2.7"/>
<circle class="c" cx="344.9" cy="365.5" r="2.7"/>
<circle class="c" cx="344.9" cy="374.4" r="2.7"/>
<circle class="c" cx="361.7" cy="223.2" r="2.7"/>
<circle class="c" cx="361.7" cy="240.1" r="2.7"/>
<circle class="c" cx="361.7" cy="242.0" r="2.7"/>
<circle class="c" cx="361.7" cy="253.8" r="2.7"/>
<circle class="c" cx="361.7" cy="266.5" r="2.7"/>
<circle class="c" cx="361.7" cy="271.2" r="2.7"/>
<circle class="c" cx="361.7" cy="289.4" r="2.7"/>
<circle class="c" cx="361.7" cy="290.0" r="2.7"/>
<circle class="c" cx="361.7" cy="297.1" r="2.7"/>
<circle class="c" cx="361.7" cy="299.1" r="2.7"/>
<circle class="c" cx="361.7" cy="301.1" r="2.7"/>
<circle class="c" cx="361.7" cy="313.5" r="2.7"/>
<circle class="c" cx="361.7" cy="316.5" r="2.7"/>
<circle class="c" cx="361.7" cy="318.5" r="2.7"/>
<circle class="c" cx="361.7" cy="331.3" r="2.7"/>
<circle class="c" cx="361.7" cy="335.7" r="2.7"/>
<circle class="c" cx="361.7" cy="338.4" r="2.7"/>
<circle class="c" cx="361.7" cy="345.1" r="2.7"/>
<circle class="c" cx="361.7" cy="374.4" r="2.7"/>
<circle class="c" cx="378.5" cy="223.2" r="2.7"/>
<circle class="c" cx="378.5" cy="238.4" r="2.7"/>
<circle class="c" cx="378.5" cy="247.7" r="2.7"/>
<circle class="c" cx="378.5" cy="248.7" r="2.7"/>
<circle class="c" cx="378.5" cy="267.4" r="2.7"/>
<circle class="c" cx="378.5" cy="272.7" r="2.7"/>
<circle class="c" cx="378.5" cy="282.4" r="2.7"/>
<circle class="c" cx="378.5" cy="285.4" r="2.7"/>
<circle class="c" cx="378.5" cy="286.0" r="2.7"/>
<circle class="c" cx="378.5" cy="315.1" r="2.7"/>
<circle class="c" cx="378.5" cy="317.8" r="2.7"/>
<circle class="c" cx="378.5" cy="321.5" r="2.7"/>
<circle class="c" cx="378.5" cy="351.7" r="2.7"/>
<circle class="c" cx="395.3" cy="223.2" r="2.7"/>
<circle class="c" cx="395.3" cy="223.2" r="2.7"/>
<circle class="c" cx="395.3" cy="230.7" r="2.7"/>
<circle class="c" cx="395.3" cy="231.3" r="2.7"/>
<circle class="c" cx="395.3" cy="240.4" r="2.7"/>
<circle class="c" cx="395.3" cy="251.8" r="2.7"/>
<circle class="c" cx="395.3" cy="261.5" r="2.7"/>
<circle class="c" cx="395.3" cy="269.1" r="2.7"/>
<circle class="c" cx="395.3" cy="288.4" r="2.7"/>
<circle class="c" cx="395.3" cy="290.8" r="2.7"/>
<circle class="c" cx="395.3" cy="309.8" r="2.7"/>
<circle class="c" cx="395.3" cy="316.7" r="2.7"/>
<circle class="c" cx="395.3" cy="340.0" r="2.7"/>
<circle class="c" cx="395.3" cy="374.4" r="2.7"/>
<circle class="c" cx="412.1" cy="223.2" r="2.7"/>
<circle class="c" cx="412.1" cy="237.7" r="2.7"/>
<circle class="c" cx="412.1" cy="258.0" r="2.7"/>
<circle class="c" cx="412.1" cy="272.0" r="2.7"/>
<circle class="c" cx="412.1" cy="276.3" r="2.7"/>
<circle class="c" cx="412.1" cy="292.4" r="2.7"/>
<circle class="c" cx="428.9" cy="223.2" r="2.7"/>
<circle class="c" cx="428.9" cy="246.4" r="2.7"/>
<circle class="c" cx="428.9" cy="270.2" r="2.7"/>
<circle class="c" cx="428.9" cy="270.8" r="2.7"/>
<circle class="c" cx="428.9" cy="286.4" r="2.7"/>
<circle class="c" cx="428.9" cy="319.4" r="2.7"/>
<rect x="277.7" y="223.2" width="151.2" height="151.15" fill="none" stroke="#747474" stroke-width="0.7"/>
<path d="M294.5 374.35v-1.6M294.5 223.2v1.6M277.7 357.6h1.6M428.9 357.6h-1.6M328.1 374.35v-1.6M328.1 223.2v1.6M277.7 324.0h1.6M428.9 324.0h-1.6M361.7 374.35v-1.6M361.7 223.2v1.6M277.7 290.4h1.6M428.9 290.4h-1.6M395.3 374.35v-1.6M395.3 223.2v1.6M277.7 256.8h1.6M428.9 256.8h-1.6M428.9 374.35v-1.6M428.9 223.2v1.6M277.7 223.2h1.6M428.9 223.2h-1.6" stroke="#747474" stroke-width="0.7" fill="none"/>
<text class="tk" x="294.5" y="387.4" text-anchor="middle">2</text>
<text class="tk" x="274.3" y="361.31" text-anchor="end">2</text>
<text class="tk" x="328.1" y="387.4" text-anchor="middle">4</text>
<text class="tk" x="274.3" y="327.72" text-anchor="end">4</text>
<text class="tk" x="361.7" y="387.4" text-anchor="middle">6</text>
<text class="tk" x="274.3" y="294.13" text-anchor="end">6</text>
<text class="tk" x="395.3" y="387.4" text-anchor="middle">8</text>
<text class="tk" x="274.3" y="260.54" text-anchor="end">8</text>
<text class="tk" x="428.9" y="387.4" text-anchor="middle">10</text>
<text class="tk" x="274.3" y="226.95" text-anchor="end">10</text>
<text class="tt" transform="translate(353.3 218.95) scale(1.037 1)" text-anchor="middle">MAAT: R=0.60741</text>
<text class="lb" x="353.3" y="401.2" text-anchor="middle">Target</text>
<text class="lb" style="font-size:10.45px" transform="translate(259.45 299.5) rotate(-90)" text-anchor="middle">Output ~= 0.75*Target + 1.3</text>
<rect x="284.8" y="230.4" width="53.2" height="34.7" fill="#fff" stroke="#747474" stroke-width="0.7"/>
<circle class="c" cx="300.9" cy="236.9" r="2.7"/>
<line x1="287.5" y1="247.8" x2="313.7" y2="247.8" stroke="#0000ff" stroke-width="1.6"/>
<line x1="287.8" y1="258.6" x2="312.2" y2="258.6" stroke="#777" stroke-width="0.8" stroke-linecap="round" stroke-dasharray="0.01 2.6"/>
<text class="lg" x="315.4" y="240.5">Data</text>
<text class="lg" x="315.4" y="251.3">Fit</text>
<text class="lg" x="315.4" y="262.0">Y = T</text>
</g>
</svg></body></html>
